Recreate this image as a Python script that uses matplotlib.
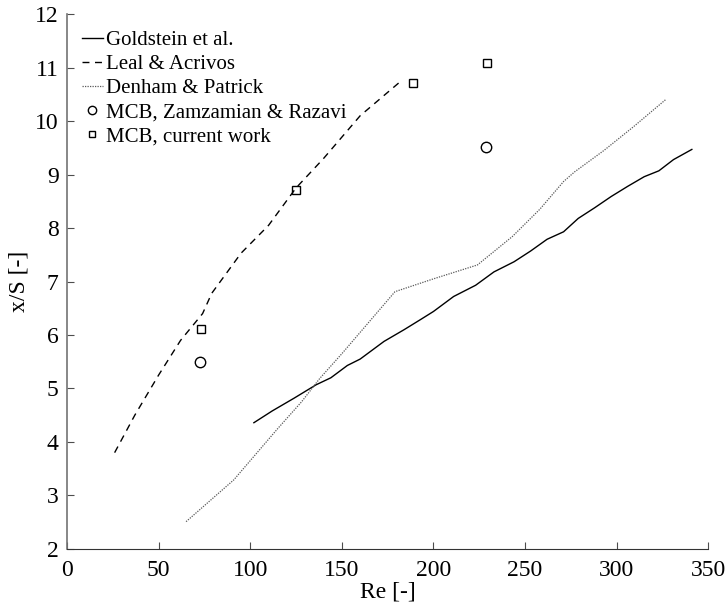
import numpy as np
import matplotlib.pyplot as plt

plt.rcParams['font.family'] = ['Liberation Serif', 'DejaVu Serif']

# Goldstein et al.
re_gold = [102, 112, 124, 136, 144, 153, 160, 173, 184, 193, 200, 211, 223, 233, 244, 253, 262, 271, 279, 288, 297, 306, 315, 323, 331, 341]
xs_gold = [4.36, 4.58, 4.82, 5.07, 5.2, 5.43, 5.55, 5.88, 6.1, 6.29, 6.44, 6.72, 6.93, 7.18, 7.37, 7.57, 7.79, 7.93, 8.18, 8.38, 8.59, 8.78, 8.96, 9.07, 9.28, 9.47]

# Leal & Acrivos
re_leal = [26, 37, 50, 62, 74, 79, 95, 110, 125, 140, 160, 183]
xs_leal = [3.8, 4.5, 5.25, 5.9, 6.4, 6.78, 7.53, 8.05, 8.75, 9.3, 10.1, 10.77]

# Denham & Patrick
re_den = [65, 78, 91, 102, 115, 128, 138, 150, 165, 179, 200, 224, 243, 258, 271, 277, 293, 309, 327]
xs_den = [2.51, 2.9, 3.29, 3.73, 4.25, 4.75, 5.19, 5.65, 6.25, 6.81, 7.05, 7.31, 7.84, 8.35, 8.87, 9.05, 9.45, 9.89, 10.41]

# MCB, Zamzamian & Razavi
re_zr = [72.6, 228.8]
xs_zr = [5.5, 9.52]

# MCB, current work
re_cw = [73, 125, 189, 229]
xs_cw = [6.11, 8.72, 10.72, 11.09]

fig = plt.figure(figsize=(7.28, 6.14), dpi=100)
ax = fig.add_axes([0.092, 0.106, 0.881, 0.871])

ax.plot(re_gold, xs_gold, color='black', lw=1.0, label='Goldstein et al.')
ax.plot(re_leal, xs_leal, color='black', lw=1.0, ls=(0, (5, 4)), label='Leal & Acrivos')
ax.plot(re_den, xs_den, color='0.35', lw=0.9, ls=(0, (1, 1)), label='Denham & Patrick')
ax.plot(re_zr, xs_zr, 'o', mfc='none', mec='black', ms=7.5, mew=1.0, label='MCB, Zamzamian & Razavi')
ax.plot(re_cw, xs_cw, 's', mfc='none', mec='black', ms=6.2, mew=1.0, label='MCB, current work')

ax.set_xlim(0, 350)
ax.set_ylim(2, 12)
ax.set_xticks(np.arange(0, 351, 50))
ax.set_yticks(np.arange(2, 13, 1))
ax.spines['top'].set_visible(False)
ax.spines['right'].set_visible(False)
ax.spines['left'].set_color('0.45')
ax.spines['left'].set_linewidth(1.2)
ax.spines['bottom'].set_color('0.2')
ax.tick_params(direction='in', length=5, labelsize=17, color='0.3')
ax.tick_params(axis='x', pad=8)
ax.tick_params(axis='y', pad=6)
ax.set_xlabel('Re [-]', fontsize=17, labelpad=0)
ax.set_ylabel('x/S [-]', fontsize=17, labelpad=4)

ax.legend(loc='upper left', frameon=False, fontsize=15, handlelength=1.05,
          handletextpad=0.1, labelspacing=0.22, borderaxespad=0.3,
          markerscale=0.8, bbox_to_anchor=(0.0, 0.997))

fig.savefig('out.png', dpi=100)
